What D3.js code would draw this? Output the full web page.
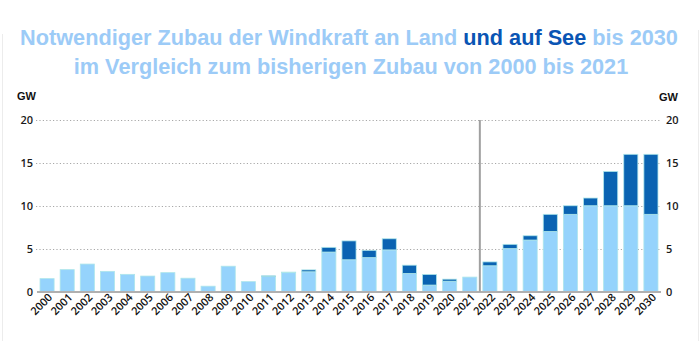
<!DOCTYPE html>
<html>
<head>
<meta charset="utf-8">
<script src="https://cdn.jsdelivr.net/npm/d3@7"></script>
<style>
  html, body { margin: 0; padding: 0; background: #fff; }
  svg { display: block; }
</style>
</head>
<body>
<svg id="chart" width="700" height="341"></svg>
<script>
// Annual wind additions in Germany (GW): onshore ("an Land") and offshore ("auf See")
const years = ["2000","2001","2002","2003","2004","2005","2006","2007","2008","2009",
  "2010","2011","2012","2013","2014","2015","2016","2017","2018","2019","2020","2021",
  "2022","2023","2024","2025","2026","2027","2028","2029","2030"];
const onshore = [1.5, 2.55, 3.2, 2.35, 2.0, 1.8, 2.2, 1.55, 0.62, 2.95,
  1.15, 1.75, 2.2, 2.3, 4.6, 3.7, 3.95, 4.85, 2.1, 0.75, 1.2, 1.68,
  3.0, 5.0, 6.0, 7.0, 9.0, 10.0, 10.0, 10.0, 9.0];
const offshore = [0, 0, 0, 0, 0, 0, 0, 0, 0, 0,
  0, 0.08, 0.06, 0.22, 0.55, 2.2, 0.85, 1.3, 0.97, 1.24, 0.24, 0,
  0.45, 0.5, 0.5, 2.0, 1.0, 0.9, 4.0, 6.0, 7.0];
const yTicks = [0, 5, 10, 15, 20];

const svg = d3.select("#chart");
const W = 700, H = 341;

// faint frame lines at the page edges
svg.append("line").attr("x1", 2.5).attr("x2", 2.5).attr("y1", 34).attr("y2", H)
  .attr("stroke", "#ececec").attr("stroke-width", 1);
svg.append("line").attr("x1", W - 1.5).attr("x2", W - 1.5).attr("y1", 30).attr("y2", H)
  .attr("stroke", "#ececec").attr("stroke-width", 1);

// Title
const light = "#9ccbf7", dark = "#0a55b4";
const title = svg.append("g")
  .attr("font-family", "'Liberation Sans', Arial, sans-serif")
  .attr("font-weight", "bold")
  .attr("font-size", 21.7)
  .attr("text-anchor", "middle");
const t1 = title.append("text").attr("x", 349).attr("y", 45);
t1.append("tspan").attr("fill", light).text("Notwendiger Zubau der Windkraft an Land ");
t1.append("tspan").attr("fill", dark).text("und auf See");
t1.append("tspan").attr("fill", light).text(" bis 2030");
title.append("text").attr("x", 351).attr("y", 74).attr("fill", light)
  .text("im Vergleich zum bisherigen Zubau von 2000 bis 2021");

// Scales
const x = d3.scaleBand().domain(years).range([37, 661])
  .paddingInner(0.3).paddingOuter(0.15);
const y = d3.scaleLinear().domain([0, 20]).range([291.5, 120]);

const font = "'Liberation Sans', Arial, sans-serif";
const labelFont = "'Open Sans', 'Noto Sans', sans-serif";

// Gridlines (dotted)
svg.append("g").selectAll("line").data(yTicks.filter(d => d > 0)).join("line")
  .attr("x1", 36).attr("x2", 660)
  .attr("y1", d => Math.round(y(d)) + 0.5).attr("y2", d => Math.round(y(d)) + 0.5)
  .attr("stroke", "#a8a8a8").attr("stroke-width", 1).attr("stroke-dasharray", "1.2,2.2");

// Axes (labels only)
const leftAxis = d3.axisLeft(y).tickValues(yTicks).tickSize(0).tickPadding(0);
const gl = svg.append("g").attr("transform", "translate(33,0)").call(leftAxis);
gl.select(".domain").remove();
gl.selectAll("text").attr("font-family", labelFont).attr("font-size", 11)
  .attr("font-weight", 600).attr("fill", "#1a1a1a");

const rightAxis = d3.axisRight(y).tickValues(yTicks).tickSize(0).tickPadding(0);
const gr = svg.append("g").attr("transform", "translate(666,0)").call(rightAxis);
gr.select(".domain").remove();
gr.selectAll("text").attr("font-family", labelFont).attr("font-size", 11)
  .attr("font-weight", 600).attr("fill", "#1a1a1a");

// Unit labels
svg.append("text").attr("x", 17).attr("y", 100).text("GW")
  .attr("font-family", font).attr("font-size", 11).attr("font-weight", "bold").attr("fill", "#111");
svg.append("text").attr("x", 659).attr("y", 101).text("GW")
  .attr("font-family", font).attr("font-size", 11).attr("font-weight", "bold").attr("fill", "#111");

// Stacked bars
const rows = years.map((yr, i) => ({ year: yr, on: onshore[i], off: offshore[i] }));
const stack = d3.stack().keys(["on", "off"])(rows);
const fills = { on: "#95d3fc", off: "#0a63b2" };
svg.append("g").selectAll("g").data(stack).join("g")
  .attr("fill", d => fills[d.key])
  .selectAll("rect").data(d => d.filter(s => s[1] - s[0] > 0)).join("rect")
  .attr("x", d => x(d.data.year))
  .attr("width", x.bandwidth())
  .attr("y", d => y(d[1]))
  .attr("height", d => y(d[0]) - y(d[1]))
  .attr("stroke", "#aee6ea").attr("stroke-width", 0.8);

// Baseline
svg.append("line").attr("x1", 37).attr("x2", 661)
  .attr("y1", y(0) + 0.5).attr("y2", y(0) + 0.5)
  .attr("stroke", "#b0b0b0").attr("stroke-width", 2);

// Divider between history (to 2021) and required additions (from 2022)
const divX = (x("2021") + x.bandwidth() + x("2022")) / 2;
svg.append("line").attr("x1", divX).attr("x2", divX)
  .attr("y1", y(20)).attr("y2", y(0))
  .attr("stroke", "#a0a0a0").attr("stroke-width", 2);

// Year labels, rotated
svg.append("g").selectAll("text").data(years).join("text")
  .attr("transform", d => `translate(${x(d) + x.bandwidth() / 2 + 6},${298}) rotate(-45)`)
  .attr("text-anchor", "end")
  .attr("font-family", labelFont).attr("font-size", 11).attr("font-weight", 600).attr("fill", "#111")
  .text(d => d);
</script>
</body>
</html>
